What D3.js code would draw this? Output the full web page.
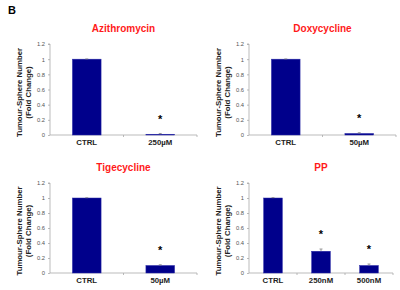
<!DOCTYPE html>
<html lang="en">
<head>
<meta charset="UTF-8">
<title>Tumour-Sphere Number</title>
<script src="https://d3js.org/d3.v7.min.js"></script>
<style>
  body { margin: 0; background: #fff; }
  svg { display: block; font-family: "Liberation Sans", Arial, sans-serif; }
  .tick text { fill: #555; font-size: 5.8px; }
  .axis path, .axis line { stroke: #aaa; stroke-width: 0.8; }
  .title { fill: #ff1a1a; font-weight: bold; font-size: 10px; }
  .cat { font-weight: bold; font-size: 7.8px; fill: #222; }
  .ylab { font-weight: bold; font-size: 7.8px; fill: #222; }
</style>
</head>
<body>
<div id="chart"></div>
<script>
// panel titles
const titles = ["Azithromycin", "Doxycycline", "Tigecycline", "PP"];
// categories per panel
const cats = [
  ["CTRL", "250µM"],
  ["CTRL", "50µM"],
  ["CTRL", "50µM"],
  ["CTRL", "250nM", "500nM"]
];
// mean fold change
const means = [
  [1, 0.01],
  [1, 0.02],
  [1, 0.10],
  [1, 0.29, 0.10]
];
// error (SEM)
const errs = [
  [0.003, 0.01],
  [0.003, 0.01],
  [0.003, 0.01],
  [0.005, 0.03, 0.02]
];
// significance marks
const stars = [
  [false, true],
  [false, true],
  [false, true],
  [false, true, true]
];
const yTicks = [0, 0.2, 0.4, 0.6, 0.8, 1, 1.2];

const svg = d3.select("#chart").append("svg")
  .attr("width", 400).attr("height", 290);

svg.append("text").attr("x", 8).attr("y", 14)
  .style("font-weight", "bold").style("font-size", "11px").text("B");

// plot area for each panel
const boxes = [
  { x0: 50, x1: 197, y0: 44, y1: 135, lx: 22 },
  { x0: 249, x1: 396, y0: 44, y1: 135, lx: 221 },
  { x0: 50, x1: 197, y0: 183, y1: 273, lx: 22 },
  { x0: 249, x1: 393, y0: 183, y1: 273, lx: 221 }
];

boxes.forEach((b, i) => {
  const g = svg.append("g");

  const x = d3.scaleBand().domain(cats[i]).range([b.x0, b.x1]).paddingInner(0.61).paddingOuter(0.305);
  const xb = d3.scaleBand().domain(cats[i]).range([b.x0, b.x1]);
  const y = d3.scaleLinear().domain([0, 1.2]).range([b.y1, b.y0]);

  // y axis
  g.append("g").attr("class", "axis")
    .attr("transform", `translate(${b.x0},0)`)
    .call(d3.axisLeft(y).tickValues(yTicks).tickSize(2).tickPadding(3)
      .tickFormat(d => d3.format("~g")(d)))
    .call(a => a.select(".domain").attr("d", `M-2,${b.y0}H0V${b.y1}`));

  // x axis line with ticks at category boundaries
  const xa = g.append("g").attr("class", "axis");
  xa.append("line").attr("x1", b.x0).attr("x2", b.x1).attr("y1", b.y1).attr("y2", b.y1);
  xa.selectAll(".bt").data(cats[i].slice(1)).join("line")
    .attr("x1", d => xb(d)).attr("x2", d => xb(d))
    .attr("y1", b.y1).attr("y2", b.y1 + 2);
  xa.append("line").attr("x1", b.x1).attr("x2", b.x1).attr("y1", b.y1).attr("y2", b.y1 + 2);

  // bars
  g.selectAll(".bar").data(cats[i]).join("rect")
    .attr("x", d => x(d)).attr("width", x.bandwidth())
    .attr("y", (d, j) => y(means[i][j]))
    .attr("height", (d, j) => b.y1 - y(means[i][j]))
    .attr("fill", "#00008b").attr("stroke", "#2a2aa8").attr("stroke-width", 0.5);

  // error bars (upper only)
  cats[i].forEach((c, j) => {
    const cx = x(c) + x.bandwidth() / 2;
    const top = y(means[i][j] + errs[i][j]);
    g.append("line").attr("x1", cx).attr("x2", cx)
      .attr("y1", y(means[i][j])).attr("y2", top)
      .attr("stroke", "#777").attr("stroke-width", 0.7);
    g.append("line").attr("x1", cx - 1.5).attr("x2", cx + 1.5)
      .attr("y1", top).attr("y2", top)
      .attr("stroke", "#777").attr("stroke-width", 0.7);
    if (stars[i][j]) {
      g.append("text").attr("x", cx).attr("y", y(means[i][j] + errs[i][j] + 0.21) + 5)
        .attr("text-anchor", "middle").style("font-size", "11px").style("font-weight", "bold")
        .text("*");
    }
  });

  // category labels
  g.selectAll(".cat").data(cats[i]).join("text")
    .attr("class", "cat")
    .attr("x", d => xb(d) + xb.bandwidth() / 2)
    .attr("y", b.y1 + 10)
    .attr("text-anchor", "middle")
    .text(d => d);

  // title
  g.append("text").attr("class", "title")
    .attr("x", (b.x0 + b.x1) / 2).attr("y", b.y0 - 12)
    .attr("text-anchor", "middle").text(titles[i]);

  // y label
  const ym = (b.y0 + b.y1) / 2 + 3;
  const yl = g.append("text").attr("class", "ylab")
    .attr("transform", `translate(${b.lx},${ym}) rotate(-90)`)
    .attr("text-anchor", "middle");
  yl.append("tspan").attr("x", 0).attr("dy", 0).text("Tumour-Sphere Number");
  yl.append("tspan").attr("x", 0).attr("dy", 8.5).text("(Fold Change)");
});
</script>
</body>
</html>
